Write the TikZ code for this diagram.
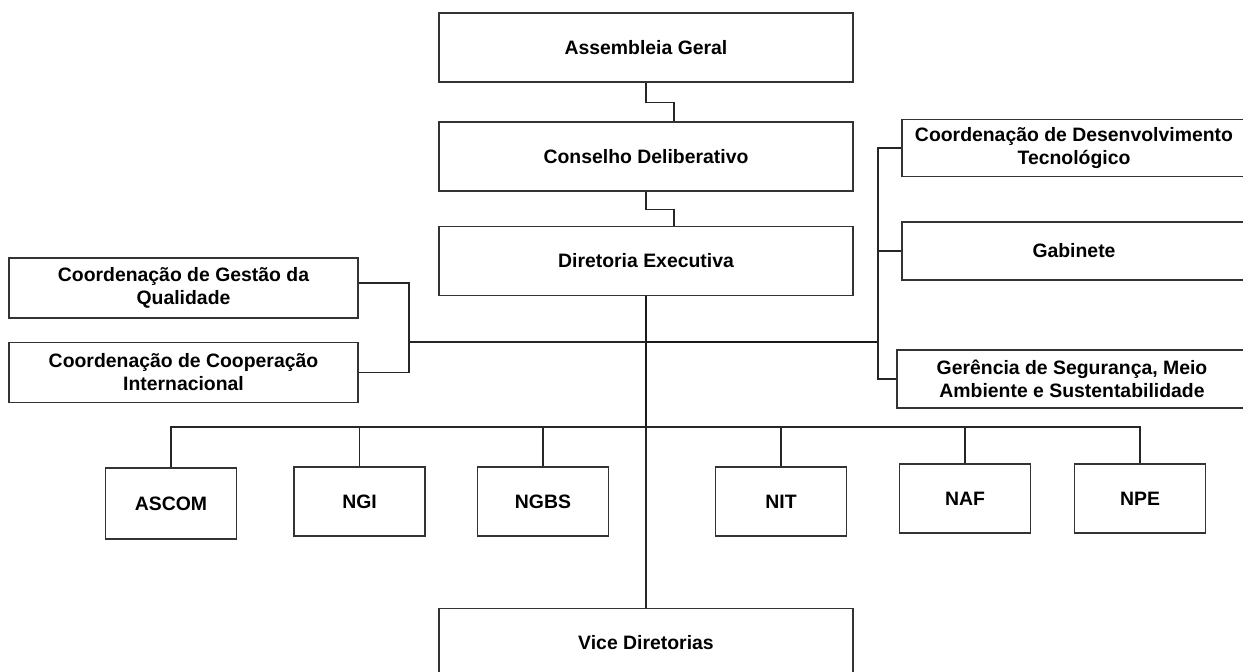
\documentclass[tikz,border=0pt]{standalone}
\usepackage{fontspec}
\setmainfont{Liberation Sans}
\usetikzlibrary{calc}

\begin{document}
\begin{tikzpicture}[x=0.5pt,y=-0.5pt,
  box/.style={draw=black!80,line width=0.8pt,rectangle,align=center,inner sep=0pt,
    font=\bfseries\fontsize{9.7}{11.5}\selectfont},
  wide/.style={box,minimum width=207pt,minimum height=34.5pt},
  side/.style={box,minimum width=174.5pt,minimum height=30pt},
  small/.style={box,minimum width=65.5pt,minimum height=34.5pt},
  link/.style={draw=black!85,line width=0.55pt},
  trunk/.style={draw=black!90,line width=1.1pt}]
\useasboundingbox (0,0) rectangle (1243,672);

  \node[wide]          (AG) at (646,47.5)      {Assembleia Geral};
  \node[wide]          (CD) at (646,156.5)     {Conselho Deliberativo};
  \node[wide]          (DE) at (646,261)       {Diretoria Executiva};
  \node[wide]          (VD) at (646,643)       {Vice Diretorias};

  \node[side]          (CGQ) at (183.5,288)    {Coordenação de Gestão da\\Qualidade};
  \node[side]          (CCI) at (183.5,372.5)  {Coordenação de Cooperação\\Internacional};

  \node[side,minimum width=172pt,minimum height=28.5pt] (CDT) at (1074,148) {Coordenação de Desenvolvimento\\Tecnológico};
  \node[side,minimum width=172pt,minimum height=29pt]   (Gab) at (1074,251) {Gabinete};
  \node[side,minimum width=175pt,minimum height=29pt]   (GSMAS) at (1072,379) {Gerência de Segurança, Meio\\Ambiente e Sustentabilidade};

  \node[small,minimum height=35.5pt] (ASCOM) at (171,503.5) {ASCOM};
  \node[small]         (NGI)  at (359.5,501.5) {NGI};
  \node[small]         (NGBS) at (543,501.5)   {NGBS};
  \node[small]         (NIT)  at (781,501.5)   {NIT};
  \node[small]         (NAF)  at (965,498.5)   {NAF};
  \node[small]         (NPE)  at (1140,498.5)  {NPE};

  \coordinate (hub) at (646,342);
  \coordinate (bus) at (646,427);
  \coordinate (lj)  at (409,342);
  \coordinate (rj)  at (878,342);

  \draw[link] (AG.south) -- ++(0,20) -| ($(CD.north)+(28,0)$);
  \draw[link] (CD.south) -- ++(0,18) -| ($(DE.north)+(28,0)$);

  \draw[trunk] (DE.south) -- (bus);
  \draw[link] (bus) -- (VD.north);

  \draw[link] ($(CGQ.east)+(0,-5)$) -| (lj) |- (CCI.east);
  \draw[link] (lj) -- (hub);
  \draw[trunk] (hub) -- (rj);
  \draw[link] (rj) |- (CDT.west)
              (rj) |- (Gab.west)
              (rj) |- (GSMAS.west);

  \draw[trunk] (bus) -- (bus -| ASCOM.north);
  \foreach \n in {ASCOM,NGI,NGBS,NIT,NAF,NPE}
    \draw[link] (bus) -| (\n.north);

\end{tikzpicture}
\end{document}
